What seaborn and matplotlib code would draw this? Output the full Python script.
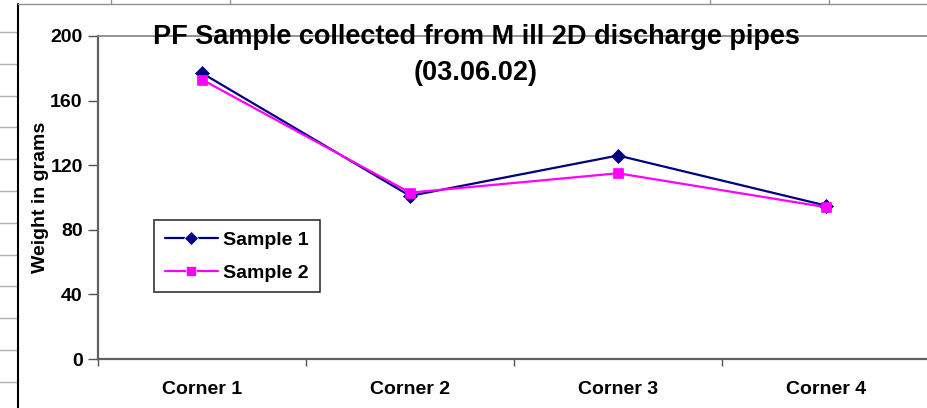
import numpy as np
import pandas as pd
import matplotlib
matplotlib.use("Agg")
import matplotlib.pyplot as plt
from matplotlib.lines import Line2D
import seaborn as sns

# values
corners = ["Corner 1", "Corner 2", "Corner 3", "Corner 4"]
sample_1 = [177, 101, 126, 95]
sample_2 = [173, 103, 115, 94]
series_names = ["Sample 1", "Sample 2"]
y_ticks = [0, 40, 80, 120, 160, 200]

df = pd.DataFrame({
    "corner": corners * 2,
    "weight": sample_1 + sample_2,
    "sample": [series_names[0]] * len(corners) + [series_names[1]] * len(corners),
})

sns.set_theme(style="white")
plt.rcParams["font.family"] = ["Liberation Sans", "DejaVu Sans"]
plt.rcParams["font.weight"] = "bold"
for key in ["text.color", "axes.labelcolor", "xtick.color", "ytick.color"]:
    plt.rcParams[key] = "black"

W, H = 927, 408
fig = plt.figure(figsize=(W / 100, H / 100), dpi=100)
fig.patch.set_facecolor("white")

# spreadsheet cells behind the chart object
for yy in np.arange(32, H, 31.8):
    fig.add_artist(Line2D([0, 18 / W], [1 - yy / H] * 2, color="#b0b0b0", lw=1))
fig.add_artist(Line2D([18 / W, 18 / W], [0, 1 - 4 / H], color="black", lw=1.5))
fig.add_artist(Line2D([18 / W, 1], [1 - 4 / H] * 2, color="#909090", lw=1))
for xx in [111, 230, 710, 829]:
    fig.add_artist(Line2D([xx / W] * 2, [1 - 4 / H, 1], color="#909090", lw=1))

ax = fig.add_axes([98 / W, 49 / H, 832 / W, 323 / H])
ax.set_facecolor("white")

sns.lineplot(
    data=df, x="corner", y="weight", hue="sample", style="sample",
    palette=["#000080", "#ff00ff"], markers=["D", "s"], dashes=False,
    linewidth=1.6, markersize=7.5, markeredgewidth=0.5, ax=ax,
)
for line, c in zip(ax.lines, ["#000080", "#ff00ff"]):
    line.set_markeredgecolor(c)

ax.set_xlim(-0.5, 3.5)
ax.set_ylim(0, 200)
ax.set_yticks(y_ticks)
ax.set_xlabel("")
ax.set_ylabel("Weight in grams", fontsize=14, fontweight="bold", labelpad=1)

ax.set_xticks(np.arange(-0.5, 4, 1), minor=True)
ax.tick_params(axis="x", which="major", length=0, pad=16, labelsize=14,
               labelcolor="black")
ax.tick_params(axis="x", which="minor", length=5, width=1, color="#555555",
               direction="out", bottom=True)
ax.tick_params(axis="y", length=7, width=1, color="#555555", direction="out",
               left=True, pad=4, labelsize=14, labelcolor="black")
for lab in ax.get_xticklabels() + ax.get_yticklabels():
    lab.set_fontweight("bold")

for side in ["left", "bottom"]:
    ax.spines[side].set_color("#606060")
    ax.spines[side].set_linewidth(1.6)
ax.spines["top"].set_color("#808080")
ax.spines["top"].set_linewidth(1.2)
ax.spines["right"].set_visible(False)

handles, labels = ax.get_legend_handles_labels()
leg = ax.legend(
    handles, labels, loc="lower left", bbox_to_anchor=(0.056, 0.176),
    frameon=True, fancybox=False, edgecolor="black", handlelength=2.7,
    handletextpad=0.3, borderpad=0.55, labelspacing=0.8,
    prop={"size": 14, "weight": "bold"},
)
leg.get_frame().set_linewidth(1.2)

fig.text(476 / W, 1 - 55 / H,
         "PF Sample collected from M ill 2D discharge pipes\n(03.06.02)",
         ha="center", va="center", fontsize=19.5, fontweight="bold",
         linespacing=1.45, zorder=5)

fig.savefig("out.png", dpi=100, facecolor="white")
